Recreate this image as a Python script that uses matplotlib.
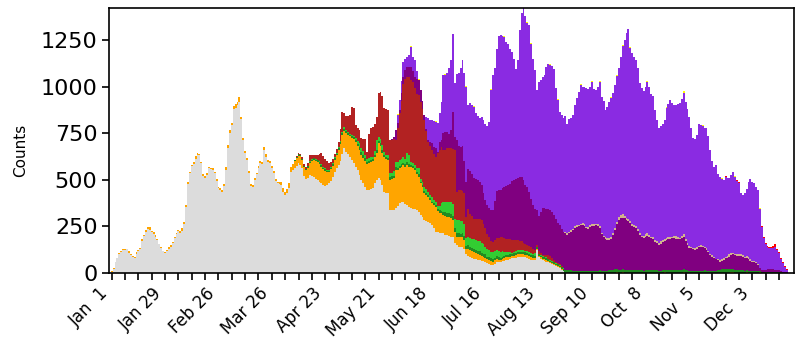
import numpy as np
import matplotlib.pyplot as plt

N = 355  # Jan 1 .. Dec 21, one bar per day
days = np.arange(N)

tick_labels = ["Jan  1", "Jan 29", "Feb 26", "Mar 26", "Apr 23", "May 21", "Jun 18",
               "Jul 16", "Aug 13", "Sep 10", "Oct  8", "Nov  5", "Dec  3"]

# ---- daily counts per category ----
gray_vals = [  # from Jan 1
    5, 22, 55, 77, 98, 110, 124, 122, 125, 108,
    96, 86, 81, 102, 116, 130, 172, 198, 220, 236,
    232, 220, 210, 190, 175, 152, 132, 116, 104, 118,
    130, 140, 160, 185, 206, 226, 215, 226, 262, 355,
    475, 534, 572, 584, 612, 632, 632, 588, 520, 510,
    525, 560, 557, 552, 534, 494, 453, 444, 434, 466,
    552, 668, 749, 794, 878, 883, 900, 919, 824, 713,
    641, 605, 537, 466, 459, 498, 529, 561, 588, 584,
    660, 620, 596, 588, 561, 537, 494, 480, 477, 470,
    435, 417, 430, 455, 540, 550, 560, 575, 588, 580,
    560, 520, 502, 510, 525, 520, 516, 505, 498, 490,
    480, 470, 466, 470, 480, 495, 516, 540, 560, 580,
    600, 640, 668, 650, 640, 623, 605, 590, 570, 550,
    525, 500, 480, 460, 444, 444, 450, 453, 480, 498,
    507, 500, 470, 435, 430, 426, 337, 337, 337, 346,
    360, 373, 378, 382, 370, 363, 355, 345, 342, 340,
    335, 328, 310, 300, 283, 278, 274, 265, 256, 238,
    220, 220, 215, 211, 211, 205, 200, 195, 193, 190,
    158, 148, 140, 140, 140, 130, 100, 92, 86, 80,
    75, 72, 70, 68, 65, 62, 59, 50, 45, 42,
    41, 48, 55, 58, 59, 62, 65, 66, 68, 72,
    77, 78, 80, 84, 86, 86, 86, 82, 80, 75,
    70, 68, 68, 120, 86, 75, 68, 64, 60, 55,
    50, 45, 40, 36, 32, 25, 15, 8]

orange_vals = [  # from Jan 1
    3, 2, 4, 0, 6, 4, 5, 8, 3, 6,
    4, 2, 5, 8, 6, 4, 8, 6, 10, 8,
    12, 6, 8, 10, 6, 4, 5, 2, 6, 4,
    8, 10, 6, 8, 10, 6, 8, 12, 10, 8,
    10, 6, 8, 12, 15, 10, 8, 6, 12, 8,
    10, 6, 8, 10, 6, 8, 5, 10, 12, 8,
    14, 18, 20, 12, 16, 22, 18, 24, 15, 10,
    12, 14, 10, 8, 12, 10, 8, 14, 10, 12,
    15, 18, 12, 10, 14, 12, 10, 8, 12, 15,
    18, 14, 20, 25, 27, 35, 40, 40, 40, 45,
    45, 50, 50, 55, 63, 80, 90, 95, 98, 95,
    90, 85, 80, 70, 60, 60, 60, 65, 70, 80,
    90, 100, 95, 100, 100, 110, 120, 130, 135, 130,
    135, 135, 135, 140, 140, 145, 145, 145, 140, 143,
    188, 180, 175, 188, 180, 179, 161, 165, 170, 206,
    190, 188, 190, 195, 200, 215, 215, 225, 220, 210,
    195, 188, 170, 160, 143, 140, 134, 125, 116, 125,
    135, 110, 108, 108, 99, 100, 101, 105, 100, 95,
    62, 45, 53, 50, 50, 45, 25, 35, 34, 35,
    35, 32, 30, 28, 25, 22, 21, 22, 25, 20,
    19, 18, 20, 12, 7, 10, 15, 17, 17, 15,
    13, 14, 15, 15, 14, 15, 14, 15, 15, 15,
    15, 13, 12, 6, 6, 7, 7, 8, 8, 6,
    5, 5, 5, 5, 6, 5, 5, 3]
orange_late = {265: 4, 268: 5, 290: 3, 300: 4, 325: 5, 326: 6, 333: 4, 340: 3}

forest_vals = [  # from Apr 5 (day 94)
    0, 0, 3, 5, 8, 6,
    5, 5, 5, 6, 8, 8, 8, 8, 8, 10,
    10, 10, 10, 9, 8, 8, 10, 10, 8, 10,
    10, 10, 10, 10, 10, 8, 8, 8, 10, 12,
    15, 15, 15, 15, 12, 12, 12, 15, 15, 20,
    15, 15, 15, 12, 10, 10, 15, 15, 15, 15,
    15, 15, 15, 15, 15, 15, 15, 10, 12, 12,
    12, 15, 8, 10, 12, 12, 10, 10, 10, 10,
    10, 12, 15, 15, 15, 20, 20, 20, 20, 20,
    20, 20, 20, 20, 22, 22, 20, 20, 20, 20,
    20, 18, 18, 18, 18, 18, 18, 15, 15, 15,
    15, 15, 15, 15, 15, 12, 12, 12, 12, 12,
    12, 12, 12, 12, 12, 12, 12, 12, 12, 12,
    12, 12, 12, 10, 10, 10, 10, 10, 10, 10,
    10, 10, 10, 8, 8, 8, 10, 10, 12, 12,
    14, 12, 10, 10, 8, 8, 10, 8, 8, 8,
    8, 10, 8, 8, 8, 10, 12, 10, 8, 8,
    10, 12, 15, 16, 18, 16, 14, 12, 14, 16,
    15, 14, 12, 14, 16, 15, 14, 12, 12, 10,
    12, 14, 16, 15, 14, 12, 12, 10, 10, 12,
    14, 12, 12, 14, 16, 15, 14, 12, 12, 14,
    14, 12, 12, 10, 10, 10, 8, 8, 10, 10,
    10, 12, 10, 10, 10, 8, 8, 10, 12, 15,
    18, 22, 22, 20, 18, 15, 14, 14, 15, 14,
    12, 12, 10, 10, 10, 10, 8, 8, 10, 8,
    6, 5, 5, 4, 4, 3, 3, 3, 2, 2,
    2, 2, 1, 1, 1]

lime_vals = [  # from Apr 15 (day 104)
    5, 5, 5, 4, 4, 5,
    5, 5, 4, 4, 4, 4, 5, 5, 5, 5,
    8, 8, 8, 8, 5, 5, 5, 5, 10, 15,
    20, 20, 25, 20, 15, 15, 15, 10, 20, 50,
    21, 25, 25, 15, 15, 15, 21, 20, 25, 29,
    30, 30, 30, 30, 25, 48, 45, 15, 15, 15,
    20, 29, 15, 15, 24, 20, 15, 15, 26, 17,
    15, 18, 20, 38, 56, 55, 60, 60, 65, 65,
    50, 70, 70, 70, 68, 65, 40, 45, 46, 48,
    50, 52, 55, 55, 52, 50, 42, 40, 35, 35,
    38, 35, 30, 30, 32, 30, 18, 15, 13, 10,
    5, 8, 10, 10, 10, 10, 8, 8, 8, 10,
    10, 10, 13, 0, 0, 3, 5, 4, 4, 5,
    5, 5, 5, 3, 2, 2, 2, 2]

fire_vals = [  # from Apr 7 (day 96)
    5, 5, 5, 8,
    10, 10, 10, 20, 30, 20, 13, 20, 25, 40,
    60, 55, 50, 45, 40, 30, 20, 20, 20, 29,
    62, 107, 75, 74, 87, 101, 154, 150, 69, 69,
    72, 52, 62, 82, 39, 129, 154, 161, 145, 127,
    233, 253, 265, 233, 243, 244, 179, 178, 174, 116,
    180, 250, 310, 394, 430, 412, 420, 440, 435, 417,
    400, 394, 416, 395, 358, 310, 271, 265, 251, 250,
    243, 281, 302, 305, 278, 280, 287, 288, 290, 295,
    369, 152, 161, 165, 160, 165, 116, 150, 130, 120,
    110, 112, 115, 120, 125, 110, 98, 80, 70, 60,
    54, 58, 65, 72, 80, 78, 75, 72, 70, 70,
    71, 65, 60, 55, 48, 45, 40, 36, 34, 32,
    30, 25, 17, 13, 13, 10, 5, 10, 15, 18,
    20, 15, 10, 8, 5, 5, 5, 2]

purple_vals = [  # from May 28 (day 147)
    5, 10, 55,
    30, 20, 40, 36, 50, 54, 55, 70, 60, 60,
    80, 81, 62, 40, 27, 10, 9, 20, 40, 35,
    45, 9, 40, 36, 90, 95, 89, 80, 100, 200,
    72, 278, 236, 230, 240, 173, 189, 215, 230, 225,
    220, 215, 210, 200, 185, 165, 152, 155, 160, 165,
    170, 210, 255, 255, 251, 265, 277, 285, 290, 300,
    314, 320, 325, 335, 346, 345, 340, 320, 313, 290,
    260, 235, 218, 190, 187, 220, 251, 250, 245, 250,
    247, 245, 240, 230, 215, 210, 199, 195, 199, 193,
    197, 208, 219, 230, 239, 242, 246, 248, 242, 232,
    227, 237, 242, 244, 248, 240, 228, 200, 182, 172,
    165, 163, 165, 184, 211, 244, 271, 280, 276, 276,
    268, 266, 253, 236, 231, 225, 211, 190, 178, 174,
    181, 181, 177, 169, 166, 153, 146, 139, 145, 153,
    156, 164, 168, 168, 168, 169, 168, 168, 167, 171,
    176, 158, 138, 125, 121, 115, 114, 117, 126, 130,
    128, 120, 112, 100, 85, 78, 69, 62, 56, 44,
    44, 48, 55, 60, 67, 75, 78, 81, 77, 76,
    76, 73, 70, 67, 62, 55, 51, 47, 40, 33,
    17, 9, 9, 12, 14, 15, 15, 15, 14, 12,
    10, 6, 5, 3, 1]

tan_vals = [  # from Aug 27 (day 238)
    8, 6,
    10, 8, 5, 10, 12, 8, 6, 10, 12, 8,
    10, 12, 14, 10, 8, 12, 10, 6, 8, 10,
    12, 10, 14, 12, 10, 8, 14, 16, 18, 14,
    10, 8, 12, 10, 8, 10, 12, 10, 8, 12,
    14, 16, 12, 10, 14, 12, 10, 12, 14, 10,
    8, 12, 10, 8, 10, 12, 14, 10, 8, 10,
    12, 10, 8, 10, 8, 6, 10, 12, 10, 8,
    6, 8, 10, 8, 6, 8, 6, 4, 6, 8,
    10, 8, 10, 12, 14, 12, 10, 8, 10, 12,
    10, 8, 6, 8, 10, 8, 6, 8, 6, 4]

violet_vals = [  # from May 31 (day 150)
    45, 52, 67, 82, 60, 54, 65, 109, 76, 89,
    40, 0, 0, 0, 0, 65, 116, 122, 121, 140,
    143, 152, 160, 206, 313, 307, 314, 352, 375, 417,
    287, 357, 391, 425, 463, 471, 510, 346, 365, 372,
    379, 359, 342, 341, 366, 393, 410, 428, 460, 643,
    723, 716, 760, 829, 832, 813, 805, 773, 761, 721,
    694, 653, 594, 631, 787, 884, 920, 907, 878, 896,
    834, 787, 748, 642, 724, 710, 704, 716, 764, 780,
    778, 785, 787, 700, 660, 611, 614, 610, 621, 589,
    604, 602, 616, 650, 678, 712, 746, 734, 737, 742,
    740, 741, 762, 723, 716, 738, 776, 730, 722, 685,
    703, 730, 746, 752, 769, 785, 799, 852, 906, 944,
    997, 1021, 928, 920, 905, 892, 863, 805, 792, 779,
    793, 815, 795, 766, 755, 697, 652, 615, 621, 625,
    642, 695, 715, 738, 716, 705, 705, 715, 723, 740,
    762, 739, 720, 693, 641, 591, 584, 603, 653, 647,
    644, 640, 644, 616, 558, 506, 486, 502, 456, 449,
    433, 420, 425, 415, 408, 418, 432, 413, 393, 378,
    328, 324, 344, 359, 407, 428, 425, 417, 406, 399,
    314, 233, 170, 138, 118, 113, 116, 116, 124, 106,
    92, 64, 44, 25, 12]

yellow_caps = {150: 5, 157: 6, 161: 6, 170: 5, 175: 6, 186: 5, 190: 6, 199: 6, 206: 6,
               216: 8, 218: 6, 220: 6, 230: 5, 234: 6, 246: 6, 252: 5, 256: 6, 262: 6,
               265: 6, 268: 5, 272: 6, 277: 5, 281: 6, 291: 6, 300: 6, 310: 6, 320: 5,
               327: 6, 340: 5}
red_caps = {322: 5, 328: 4, 329: 5, 340: 5, 341: 4, 342: 6, 343: 8, 344: 6, 345: 5,
            346: 4, 347: 10, 348: 14, 349: 10, 350: 8, 351: 8, 352: 6, 353: 6, 354: 4}


def place(start, vals):
    arr = np.zeros(N)
    arr[start:start + len(vals)] = vals
    return arr


def sparse(d):
    arr = np.zeros(N)
    for k, v in d.items():
        arr[k] = v
    return arr


gray = place(0, gray_vals)
orange = place(0, orange_vals) + sparse(orange_late)
forest = place(94, forest_vals)
lime = place(104, lime_vals)
fire = place(96, fire_vals)
purple = place(147, purple_vals)
tan = place(238, tan_vals)
violet = place(150, violet_vals)
yellow = sparse(yellow_caps)
red = sparse(red_caps)

layers = [(gray, '#dcdcdc'), (orange, '#ffa500'), (forest, '#228b22'),
          (lime, '#32cd32'), (fire, '#b22222'), (purple, '#800080'),
          (tan, '#d2b48c'), (violet, '#8a2be2'), (yellow, '#ffff00'),
          (red, '#ff0000')]

fig = plt.figure(figsize=(7.95, 3.41), dpi=100)
ax = fig.add_axes([0.1375, 0.2003, 0.8613, 0.7771])

bottom = np.zeros(N)
for vals, col in layers:
    ax.bar(days, vals, width=1.0, bottom=bottom, color=col, linewidth=0)
    bottom += vals

ax.set_xlim(-1.25, 357.9)
ax.set_ylim(0, 1424)

ax.set_xticks(np.arange(0, 337, 28))
ax.set_xticklabels(tick_labels, rotation=45, ha='right', fontsize=12)
ax.set_xticks(np.arange(0, N, 7), minor=True)
ax.set_yticks([0, 250, 500, 750, 1000, 1250])
ax.tick_params(axis='y', labelsize=16, width=1.2, length=5)
ax.tick_params(axis='x', which='both', width=1.2, length=5)
for s in ax.spines.values():
    s.set_linewidth(1.2)

ax.set_ylabel('Counts', fontsize=11)
ax.yaxis.set_label_coords(-0.118, 0.46)

fig.savefig('out.png', dpi=100)
